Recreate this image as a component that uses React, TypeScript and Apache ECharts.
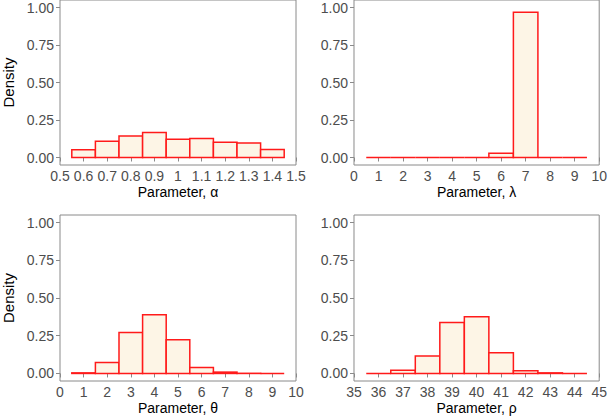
import React, { useEffect, useRef } from "react";
import * as echarts from "echarts";

// ---- Data ----
const alphaCenters = [0.6, 0.7, 0.8, 0.9, 1.0, 1.1, 1.2, 1.3, 1.4];
const alphaDensity = [0.051, 0.108, 0.144, 0.166, 0.122, 0.126, 0.102, 0.097, 0.053];
const alphaBinWidth = 0.1;
const alphaTicks = [0.5, 0.6, 0.7, 0.8, 0.9, 1.0, 1.1, 1.2, 1.3, 1.4, 1.5];

const lambdaCenters = [1, 2, 3, 4, 5, 6, 7, 8, 9];
const lambdaDensity = [0, 0, 0, 0, 0, 0.029, 0.969, 0, 0];
const lambdaBinWidth = 1;
const lambdaTicks = [0, 1, 2, 3, 4, 5, 6, 7, 8, 9, 10];

const thetaCenters = [1, 2, 3, 4, 5, 6, 7, 8, 9];
const thetaDensity = [0.004, 0.073, 0.272, 0.389, 0.223, 0.04, 0.009, 0.001, 0];
const thetaBinWidth = 1;
const thetaTicks = [0, 1, 2, 3, 4, 5, 6, 7, 8, 9, 10];

const rhoCenters = [36, 37, 38, 39, 40, 41, 42, 43, 44];
const rhoDensity = [0, 0.022, 0.115, 0.338, 0.376, 0.137, 0.018, 0.004, 0];
const rhoBinWidth = 1;
const rhoTicks = [35, 36, 37, 38, 39, 40, 41, 42, 43, 44, 45];

const densityTicks = [0, 0.25, 0.5, 0.75, 1.0];

const panelTitles = ["Parameter, α", "Parameter, λ", "Parameter, θ", "Parameter, ρ"];

const FONT = "'Liberation Sans', Arial, Helvetica, sans-serif";
const BORDER = "#8a8a8a";
const LABEL = "#4d4d4d";

function histData(centers: number[], dens: number[], w: number) {
  return centers.map((c, i) => [c - w / 2, c + w / 2, dens[i]]);
}

const panels = [
  { data: histData(alphaCenters, alphaDensity, alphaBinWidth), ticks: alphaTicks, density: true },
  { data: histData(lambdaCenters, lambdaDensity, lambdaBinWidth), ticks: lambdaTicks, density: false },
  { data: histData(thetaCenters, thetaDensity, thetaBinWidth), ticks: thetaTicks, density: true },
  { data: histData(rhoCenters, rhoDensity, rhoBinWidth), ticks: rhoTicks, density: false },
];

const gridPos = [
  { left: 51, top: 0, width: 245, height: 165 },
  { left: 354, top: 0, width: 247, height: 165 },
  { left: 51, top: 215, width: 245, height: 166 },
  { left: 354, top: 215, width: 247, height: 166 },
];

function fmtX(v: number) {
  return String(parseFloat(v.toFixed(2)));
}

export default function App() {
  const ref = useRef<HTMLDivElement>(null);
  useEffect(() => {
    if (!ref.current) return;
    const chart = echarts.init(ref.current, undefined, { renderer: "svg" });
    const option: any = {
      animation: false,
      backgroundColor: "#ffffff",
      textStyle: { fontFamily: FONT },
      grid: gridPos.map((g) => ({
        ...g,
        show: true,
        borderColor: BORDER,
        borderWidth: 1,
        backgroundColor: "transparent",
        containLabel: false,
      })),
      xAxis: panels.map((p, i) => ({
        type: "value",
        gridIndex: i,
        min: p.ticks[0],
        max: p.ticks[p.ticks.length - 1],
        name: panelTitles[i],
        nameLocation: "middle",
        nameGap: 20,
        nameTextStyle: { fontSize: 14, color: "#000", fontFamily: FONT },
        axisLine: { show: false },
        splitLine: { show: false },
        axisTick: {
          show: true,
          length: 4,
          lineStyle: { color: BORDER },
          customValues: p.ticks,
        },
        axisLabel: {
          show: true,
          margin: 4,
          fontSize: 14,
          color: LABEL,
          fontFamily: FONT,
          customValues: p.ticks,
          formatter: (v: number) => fmtX(v),
        },
      })),
      yAxis: panels.map((p, i) => ({
        type: "value",
        gridIndex: i,
        min: -0.05,
        max: 1.05,
        name: p.density ? "Density" : "",
        nameLocation: "middle",
        nameGap: 44,
        nameRotate: 90,
        nameTextStyle: { fontSize: 15, color: "#000", fontFamily: FONT },
        axisLine: { show: false },
        splitLine: { show: false },
        axisTick: {
          show: true,
          length: 4,
          lineStyle: { color: BORDER },
          customValues: densityTicks,
        },
        axisLabel: {
          show: true,
          margin: 6,
          fontSize: 14,
          color: LABEL,
          fontFamily: FONT,
          customValues: densityTicks,
          formatter: (v: number) => v.toFixed(2),
        },
      })),
      series: panels.map((p, i) => ({
        type: "custom",
        xAxisIndex: i,
        yAxisIndex: i,
        encode: { x: [0, 1], y: 2 },
        data: p.data,
        renderItem: (params: any, api: any) => {
          const x0 = api.value(0);
          const x1 = api.value(1);
          const h = api.value(2);
          const a = api.coord([x0, 0]);
          const b = api.coord([x0, h]);
          const c = api.coord([x1, h]);
          const d = api.coord([x1, 0]);
          return {
            type: "polygon",
            shape: { points: [a, b, c, d] },
            style: { fill: "#FDF5E6", stroke: "#ff1a1a", lineWidth: 1.5 },
          };
        },
      })),
    };
    chart.setOption(option);
    return () => chart.dispose();
  }, []);
  return (
    <div
      ref={ref}
      style={{ position: "absolute", left: 0, top: 0, width: 610, height: 417 }}
    />
  );
}
